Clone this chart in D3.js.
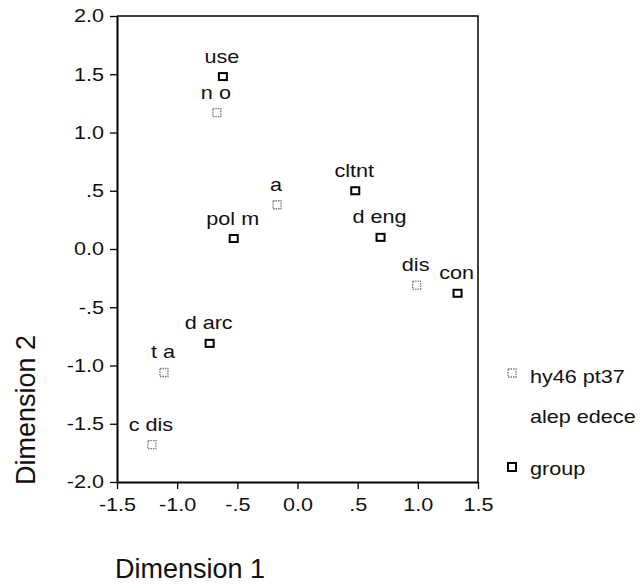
<!DOCTYPE html>
<html>
<head>
<meta charset="utf-8">
<script src="https://cdn.jsdelivr.net/npm/d3@7"></script>
<style>
  body { margin: 0; background: #fff; font-family: Arial, "Liberation Sans", sans-serif; }
  text { fill: #111; }
</style>
</head>
<body>
<svg id="chart"></svg>
<script>
// point labels, coordinates and which set they belong to
var labels = ["use", "n o", "a", "pol m", "cltnt", "d eng", "dis", "con", "d arc", "t a", "c dis"];
var dim1 = [-0.62, -0.67, -0.17, -0.53, 0.48, 0.69, 0.99, 1.33, -0.73, -1.11, -1.21];
var dim2 = [1.48, 1.17, 0.38, 0.09, 0.50, 0.10, -0.31, -0.38, -0.81, -1.06, -1.68];
var sets = ["group", "hy46", "hy46", "group", "group", "group", "hy46", "group", "group", "hy46", "hy46"];

var xTicks = [-1.5, -1.0, -0.5, 0.0, 0.5, 1.0, 1.5];
var yTicks = [-2.0, -1.5, -1.0, -0.5, 0.0, 0.5, 1.0, 1.5, 2.0];
var legendItems = [
  { key: "hy46", lines: ["hy46 pt37", "alep edece"] },
  { key: "group", lines: ["group"] }
];

var width = 641, height = 585;
var FS = 18, SX = 1.2;   // the scanned font is wide: small size, stretched horizontally
var svg = d3.select("#chart").attr("width", width).attr("height", height);

var x = d3.scaleLinear().domain([-1.5, 1.5]).range([117, 478]);
var y = d3.scaleLinear().domain([-2, 2]).range([482, 16]);

// SPSS style tick text: plain hyphen, no leading zero
function fmt(v) {
  var s = d3.format(".1f")(Math.abs(v));
  if (s === "0.5") s = ".5";
  return (v < 0 ? "-" : "") + s;
}

// stretched text placed at (px, py)
function wideText(sel, px, py, t, size) {
  return sel.append("text")
    .attr("transform", "translate(" + px + "," + py + ") scale(" + SX + ",1)")
    .attr("font-size", size || FS)
    .text(t);
}

// frame (top and right)
svg.append("path")
  .attr("d", "M" + x(-1.5) + "," + y(2) + "H" + x(1.5) + "V" + y(-2))
  .attr("fill", "none").attr("stroke", "#000").attr("stroke-width", 1.5);

var gx = svg.append("g").attr("transform", "translate(0," + y(-2) + ")")
  .call(d3.axisBottom(x).tickValues(xTicks).tickFormat(fmt).tickSize(7).tickSizeOuter(0).tickPadding(9));
var gy = svg.append("g").attr("transform", "translate(" + x(-1.5) + ",0)")
  .call(d3.axisLeft(y).tickValues(yTicks).tickFormat(fmt).tickSize(7).tickSizeOuter(0).tickPadding(6));

[gx, gy].forEach(function (g) {
  g.select(".domain").attr("stroke", "#000").attr("stroke-width", 2);
  g.selectAll(".tick line").attr("stroke", "#000").attr("stroke-width", 1.3);
  g.selectAll(".tick text")
    .attr("font-size", FS).attr("font-family", "Arial, 'Liberation Sans', sans-serif").attr("fill", "#111")
    .attr("x", function () { return (+d3.select(this).attr("x") || 0) / SX; })
    .attr("transform", "scale(" + SX + ",1)");
});

function marker(sel, key) {
  if (key === "hy46") {
    sel.attr("fill", "none").attr("stroke", "#777").attr("stroke-width", 1.3)
      .attr("stroke-dasharray", "1.5,1");
  } else {
    sel.attr("fill", "none").attr("stroke", "#000").attr("stroke-width", 2);
  }
}

var pts = labels.map(function (l, i) {
  return { label: l, d1: dim1[i], d2: dim2[i], set: sets[i] };
});

var pg = svg.append("g");
pg.selectAll("rect").data(pts).enter().append("rect")
  .attr("x", function (d) { return x(d.d1) - 4; })
  .attr("y", function (d) { return y(d.d2) - (d.set === "group" ? 3.5 : 4); })
  .attr("width", 8)
  .attr("height", function (d) { return d.set === "group" ? 7 : 8; })
  .each(function (d) { marker(d3.select(this), d.set); });

pts.forEach(function (d) {
  wideText(pg, x(d.d1) - 1, y(d.d2) - 14, d.label).attr("text-anchor", "middle");
});

// legend
var lg = svg.append("g");
var legendY = [373, 467];
var legendBase = [[383, 423], [475]];
legendItems.forEach(function (it, i) {
  var r = lg.append("rect").attr("x", 508).attr("y", legendY[i] - 4).attr("width", 8).attr("height", 8);
  marker(r, it.key);
  it.lines.forEach(function (t, j) {
    wideText(lg, 530, legendBase[i][j], t);
  });
});

// axis titles
svg.append("text").attr("x", 115).attr("y", 578).attr("font-size", 27).text("Dimension 1");
svg.append("text").attr("transform", "translate(35,485) rotate(-90)")
  .attr("font-size", 27).text("Dimension 2");
</script>
</body>
</html>
